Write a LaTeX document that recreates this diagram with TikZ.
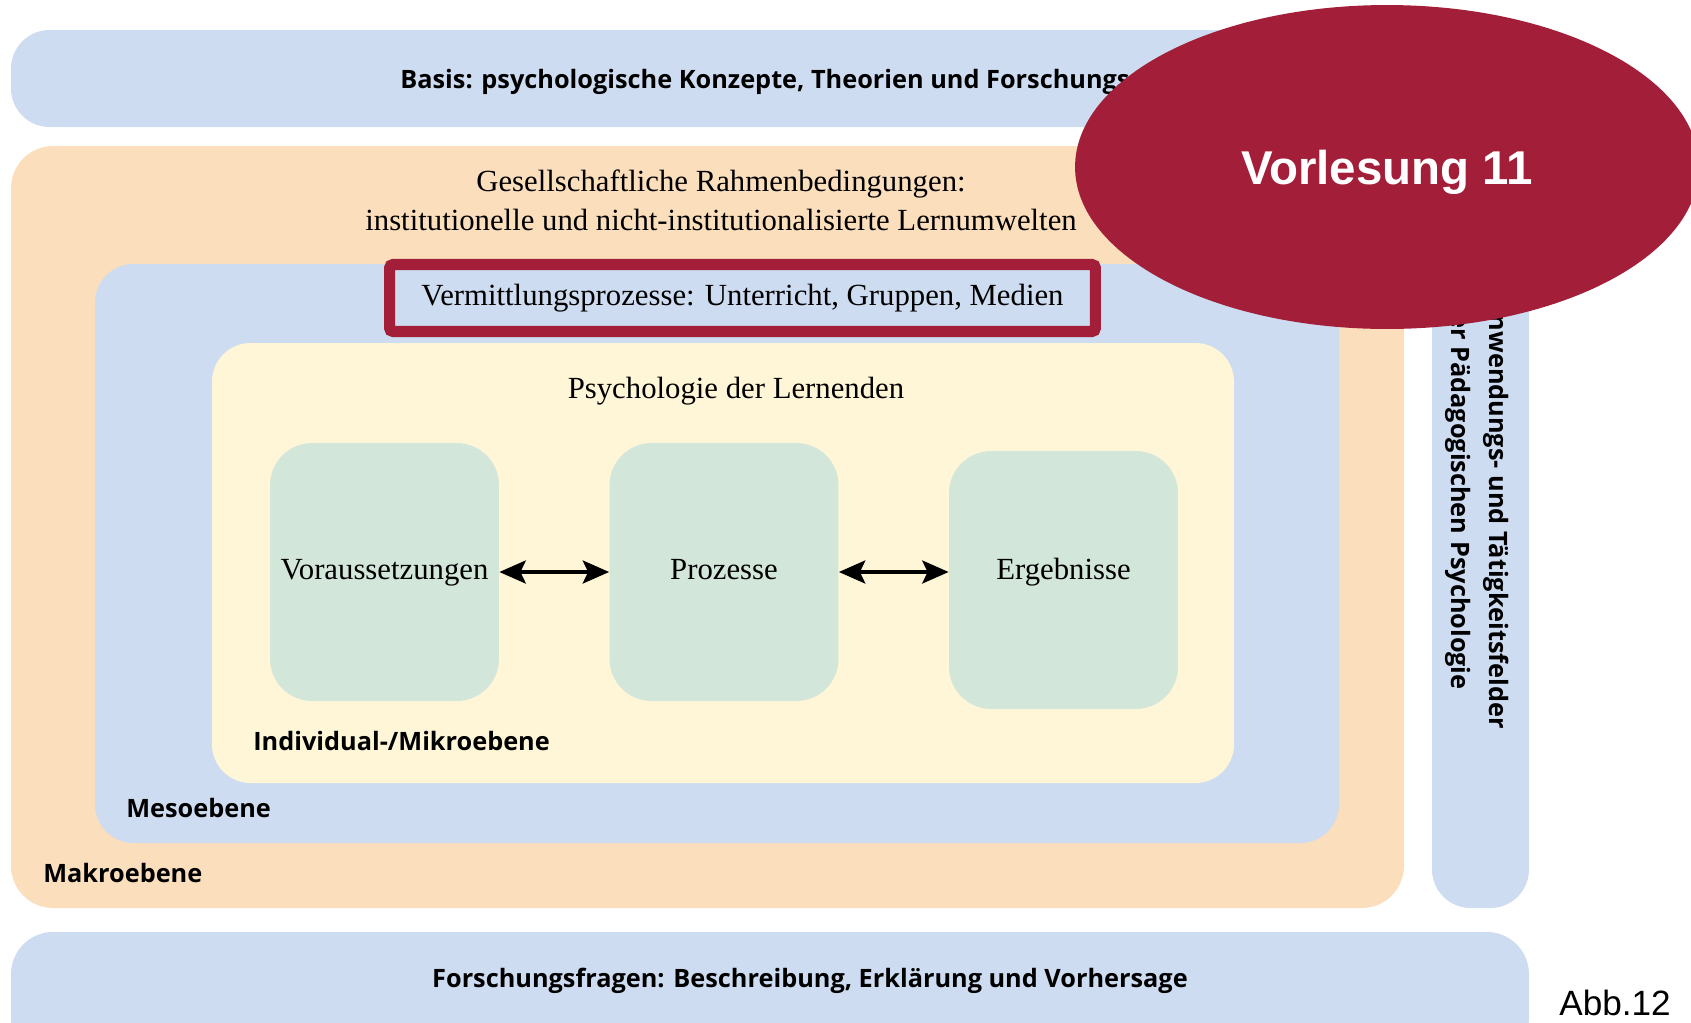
\documentclass[tikz,border=0pt]{standalone}
\usepackage{fontspec}
\setmainfont{Liberation Serif}
\newfontfamily\opensans{Open Sans}
\newfontfamily\arial{Liberation Sans}
\usetikzlibrary{arrows.meta, shapes.geometric}
\definecolor{hellblau}{RGB}{205,220,240}
\definecolor{hellorange}{RGB}{251,222,188}
\definecolor{hellgelb}{RGB}{255,246,216}
\definecolor{hellgruen}{RGB}{210,230,218}
\definecolor{weinrot}{RGB}{163,30,56}

\begin{document}
\begin{tikzpicture}[x=0.02cm, y=-0.02cm,
  ebene/.style={font=\opensans\bfseries\fontsize{14.4}{21.5}\selectfont, inner sep=0pt},
  serif/.style={font=\fontsize{17.5}{22.2}\selectfont},
  feld/.style={serif, fill=hellgruen, rounded corners=24pt, minimum width=4.58cm, minimum height=5.16cm, text height=12pt, text depth=4pt},
  pfeil/.style={line width=2.3pt, {Stealth[length=15pt, width=13pt, inset=3pt]}-{Stealth[length=15pt, width=13pt, inset=3pt]}}]
\useasboundingbox (0,0) rectangle (1691,1022);
\fill[hellblau, rounded corners=22pt] (11,30) rectangle (1529,127);
\fill[hellorange, rounded corners=24pt] (11,146) rectangle (1404,908);
\fill[hellblau, rounded corners=22pt] (1432,146) rectangle (1529,908);
\fill[hellblau, rounded corners=24pt] (11,932) rectangle (1529,1060);
\fill[hellblau, rounded corners=22pt] (95,264) rectangle (1339,843);
\fill[hellgelb, rounded corners=22pt] (212,343) rectangle (1234,783);

\node[ebene, anchor=base west] (Basis) at (400,88) {Basis: psychologische Konzepte, Theorien und Forschungsmethoden};
\node[serif, align=center] (Gesell) at (721,200) {Gesellschaftliche Rahmenbedingungen:\\institutionelle und nicht-institutionalisierte Lernumwelten};
\node[draw=weinrot, fill=hellblau, line width=6.3pt, rounded corners=2pt, serif, minimum width=14.12cm, minimum height=1.34cm] (Verm) at (742.5,298) {Vermittlungsprozesse: Unterricht, Gruppen, Medien};
\node[serif] (Psych) at (736,391) {Psychologie der Lernenden};

\node[feld] (Vor) at (384.5,572) {Voraussetzungen};
\node[feld] (Proz) at (724,572) {Prozesse};
\node[feld, text depth=13pt] (Erg) at (1063.5,580) {Ergebnisse};
\draw[pfeil] (Vor) -- (Proz);
\draw[pfeil] (Proz) -- (Erg.west |- Proz);

\node[ebene, anchor=base west] (Mikro) at (253,750) {Individual-/Mikroebene};
\node[ebene, anchor=base west] (Meso) at (126,817) {Mesoebene};
\node[ebene, anchor=base west] (Makro) at (43,882) {Makroebene};
\node[ebene, anchor=north west, rotate=-90, align=left] (Anw) at (1509,297) {Anwendungs- und Tätigkeitsfelder\\der Pädagogischen Psychologie};
\node[ebene, anchor=base] (Fragen) at (810,987) {Forschungsfragen: Beschreibung, Erklärung und Vorhersage};
\node[font=\arial\fontsize{20}{24}\selectfont, inner sep=0pt, anchor=base west] (Abb) at (1559,1015) {Abb.12};

\node[ellipse, fill=weinrot, inner sep=0pt, minimum width=12.48cm, minimum height=6.48cm, text=white, text depth=0pt, font=\arial\bfseries\fontsize{27}{30}\selectfont] (VL) at (1387,167) {Vorlesung 11};
\end{tikzpicture}
\end{document}
